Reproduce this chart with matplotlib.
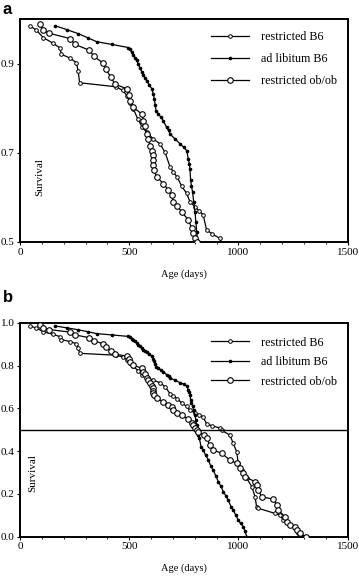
import matplotlib
matplotlib.use("Agg")
import matplotlib.pyplot as plt
from matplotlib.ticker import MultipleLocator

plt.rcParams['font.family'] = ['Liberation Serif', 'DejaVu Serif']

# restricted B6 (small open circles)
rb6_age = [44, 75, 107, 150, 183, 189, 230, 258, 266, 273, 440, 470, 490, 505, 519,
           540, 560, 580, 610, 641, 664, 687, 702, 720, 740, 763, 778, 801, 820, 839,
           854, 880, 915, 923, 961, 976, 992, 999, 1015, 1038, 1061, 1076, 1083, 1091,
           1167, 1190, 1205, 1236, 1259, 1274, 1290]
rb6_surv = [0.985, 0.975, 0.958, 0.946, 0.935, 0.921, 0.912, 0.902, 0.884, 0.857, 0.848,
            0.840, 0.828, 0.812, 0.798, 0.775, 0.757, 0.746, 0.731, 0.720, 0.701, 0.668,
            0.657, 0.645, 0.625, 0.609, 0.590, 0.579, 0.570, 0.560, 0.527, 0.518, 0.508,
            0.497, 0.475, 0.436, 0.397, 0.343, 0.312, 0.273, 0.234, 0.187, 0.140, 0.133,
            0.109, 0.101, 0.078, 0.055, 0.039, 0.016, 0.000]

# ad libitum B6 (small filled dots)
alb6_age = [160, 215, 267, 310, 351, 420, 496, 504, 512, 519, 527, 534, 542, 549, 557,
            565, 572, 580, 592, 603, 610, 615, 619, 623, 633, 645, 656, 671, 680, 687,
            710, 733, 750, 763, 770, 775, 778, 781, 785, 790, 795, 801, 805, 809, 812,
            816, 821, 829, 839, 850, 862, 873, 885, 896, 908, 920, 931, 943, 953, 966,
            976, 988, 999, 1010, 1022, 1030, 1038]
alb6_surv = [0.985, 0.976, 0.967, 0.958, 0.949, 0.943, 0.936, 0.932, 0.925, 0.919, 0.913,
             0.907, 0.898, 0.890, 0.882, 0.874, 0.868, 0.861, 0.852, 0.844, 0.832, 0.820,
             0.807, 0.794, 0.787, 0.780, 0.772, 0.757, 0.750, 0.742, 0.731, 0.720, 0.712,
             0.705, 0.687, 0.675, 0.664, 0.638, 0.625, 0.612, 0.590, 0.568, 0.545, 0.523,
             0.505, 0.475, 0.460, 0.420, 0.405, 0.380, 0.360, 0.330, 0.310, 0.285, 0.257,
             0.235, 0.210, 0.190, 0.171, 0.140, 0.125, 0.100, 0.078, 0.062, 0.047, 0.025,
             0.000]

# restricted ob/ob (large open circles)
ob_age = [92, 107, 134, 229, 252, 317, 339, 378, 394, 415, 435, 491, 500, 502, 519, 557,
          565, 572, 580, 588, 595, 603, 607, 608, 610, 612, 626, 656, 679, 694, 702, 720,
          740, 771, 786, 794, 801, 809, 816, 840, 854, 870, 885, 923, 961, 992, 1007, 1022,
          1030, 1076, 1083, 1091, 1106, 1160, 1175, 1182, 1213, 1221, 1236, 1259, 1267,
          1282, 1309]
ob_surv = [0.988, 0.975, 0.968, 0.956, 0.943, 0.930, 0.916, 0.902, 0.887, 0.870, 0.854,
           0.843, 0.829, 0.817, 0.802, 0.787, 0.772, 0.759, 0.742, 0.731, 0.716, 0.705,
           0.694, 0.683, 0.672, 0.661, 0.646, 0.631, 0.616, 0.605, 0.590, 0.580, 0.568,
           0.549, 0.531, 0.520, 0.510, 0.500, 0.490, 0.475, 0.460, 0.428, 0.405, 0.390,
           0.358, 0.343, 0.320, 0.296, 0.280, 0.257, 0.242, 0.218, 0.187, 0.175, 0.148,
           0.125, 0.093, 0.070, 0.055, 0.047, 0.031, 0.016, 0.000]

labels = ['restricted B6', 'ad libitum B6', 'restricted ob/ob']


def draw(ax, ylo, yticks, survx, survy, leg_y, leg_space):
    ax.plot(rb6_age, rb6_surv, '-', color='black', lw=0.9, marker='o', ms=2.6,
            mfc='white', mec='black', mew=0.7, label=labels[0])
    ax.plot(alb6_age, alb6_surv, '-', color='black', lw=0.9, marker='o', ms=1.6,
            mfc='black', mec='black', label=labels[1])
    ax.plot(ob_age, ob_surv, '-', color='black', lw=0.9, marker='o', ms=4.0,
            mfc='white', mec='black', mew=0.8, label=labels[2], zorder=3)
    ax.set_xlim(0, 1500)
    ax.set_ylim(ylo, 1.0)
    ax.set_yticks(yticks)
    ax.set_yticklabels(['%.1f' % t for t in yticks])
    ax.set_xticks([0, 500, 1000, 1500])
    ax.xaxis.set_minor_locator(MultipleLocator(100))
    ax.tick_params(axis='both', which='major', direction='out', length=2.5, width=0.8,
                   labelsize=8, pad=1.5)
    ax.tick_params(axis='x', which='minor', direction='out', length=1.5, width=0.6)
    for s in ax.spines.values():
        s.set_linewidth(1.4)
    ax.set_xlabel('Age (days)', fontsize=7.5, labelpad=9)
    ax.text(survx, survy, 'Survival', rotation=90, fontsize=8, transform=ax.transAxes,
            ha='center', va='center')
    ax.legend(loc='upper left', bbox_to_anchor=(0.583, leg_y), frameon=False,
              fontsize=8.7, handlelength=3.1, handletextpad=1.0, labelspacing=leg_space,
              borderpad=0, borderaxespad=0, numpoints=1)


fig = plt.figure(figsize=(3.59, 5.77), dpi=100)

ax1 = fig.add_axes([0.0557, 0.5806, 0.9128, 0.3865])
draw(ax1, 0.5, [0.5, 0.7, 0.9], 0.061, 0.29, 0.945, 0.82)

ax2 = fig.add_axes([0.0557, 0.0698, 0.9128, 0.3709])
draw(ax2, 0.0, [0.0, 0.2, 0.4, 0.6, 0.8, 1.0], 0.04, 0.30, 0.935, 0.62)
ax2.axhline(0.5, color='black', lw=1.0)

fig.text(0.008, 0.997, 'a', fontsize=12, fontweight='bold', family='Liberation Sans',
         va='top', ha='left')
fig.text(0.008, 0.497, 'b', fontsize=12, fontweight='bold', family='Liberation Sans',
         va='top', ha='left')

fig.savefig('out.png', dpi=100)
